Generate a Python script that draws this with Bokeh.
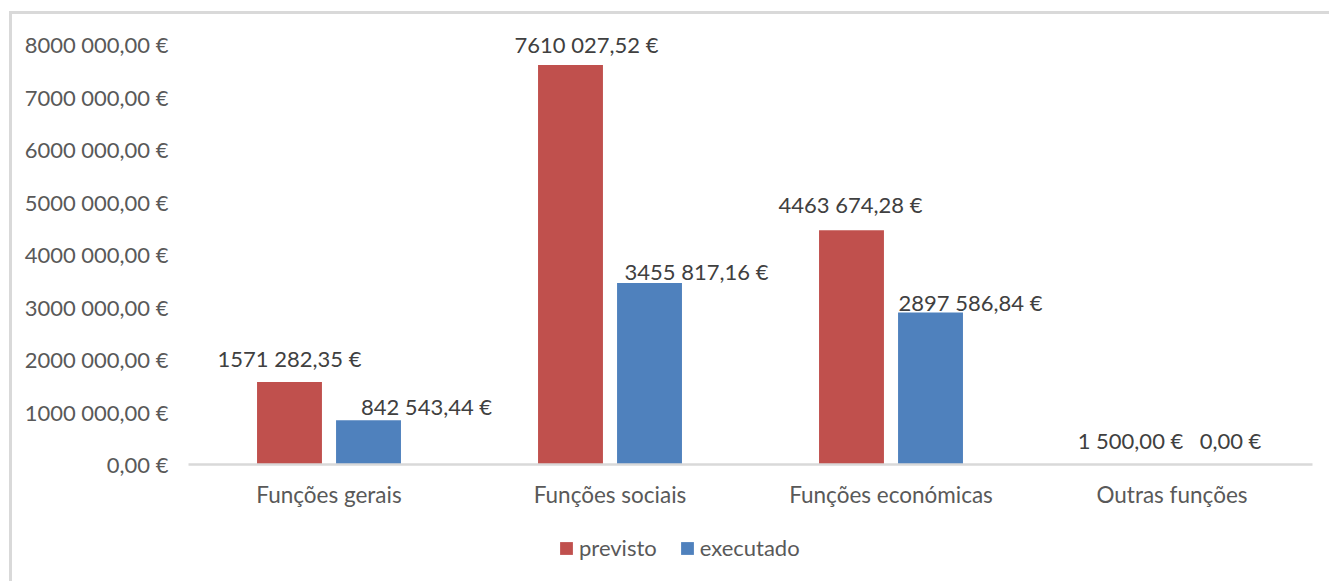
from bokeh.plotting import figure
from bokeh.layouts import column
from bokeh.models import (ColumnDataSource, FactorRange, Range1d, FixedTicker,
                          Legend, LegendItem, InlineStyleSheet)
from bokeh.transform import dodge
from bokeh.core.properties import value
from bokeh.embed import file_html
from bokeh.resources import INLINE

# --- data -------------------------------------------------------------
categories = ["Funções gerais", "Funções sociais", "Funções económicas", "Outras funções"]
previsto = [1571282.35, 7610027.52, 4463674.28, 1500.00]
executado = [842543.44, 3455817.16, 2897586.84, 0.00]
y_ticks = [0, 1000000, 2000000, 3000000, 4000000, 5000000, 6000000, 7000000, 8000000]
series_names = ["previsto", "executado"]

# label nudges (screen px) so the value labels sit clear of neighbouring bars
previsto_dx = [0, 16, -1, -2]
previsto_dy = [-24, -20, -26, -24]
executado_dx = [58, 47, 40, 19]
executado_dy = [-14, -12, -10, -24]


def euro(v):
    """Portuguese currency format: '7610 027,52 €', '842 543,44 €'."""
    s = f"{v:,.2f}"
    int_part, dec = s.split(".")
    groups = int_part.split(",")
    if len(groups) >= 3:
        groups = [groups[0] + groups[1]] + groups[2:]
    return " ".join(groups) + "," + dec + " €"


RED = "#C0504D"
BLUE = "#4F81BD"
FONT = "Lato"

source = ColumnDataSource(dict(
    cat=categories,
    previsto=previsto,
    executado=executado,
    lab_p=[euro(v) for v in previsto],
    lab_e=[euro(v) for v in executado],
    dx_p=previsto_dx, dy_p=previsto_dy,
    dx_e=executado_dx, dy_e=executado_dy,
))

p = figure(
    width=1329, height=520,
    x_range=FactorRange(*categories, range_padding=0),
    y_range=Range1d(0, 8400000),
    output_backend="svg", toolbar_location=None,
    min_border_left=188, min_border_right=17,
    min_border_top=23, min_border_bottom=56,
)

p.outline_line_color = None
p.xgrid.grid_line_color = None
p.ygrid.grid_line_color = None
p.background_fill_color = "white"
p.border_fill_color = "white"

BAR_W = 0.231
OFF = 0.1406

p.vbar(x=dodge("cat", -OFF, range=p.x_range), top="previsto", width=BAR_W,
       source=source, color=RED, line_color=None)
p.vbar(x=dodge("cat", OFF, range=p.x_range), top="executado", width=BAR_W,
       source=source, color=BLUE, line_color=None)

# value labels
p.text(x=dodge("cat", -OFF, range=p.x_range), y="previsto", text="lab_p",
       x_offset="dx_p", y_offset="dy_p", source=source,
       text_font=value(FONT), text_font_size="22px", text_color="#404040",
       text_align="center", text_baseline="middle")
p.text(x=dodge("cat", OFF, range=p.x_range), y="executado", text="lab_e",
       x_offset="dx_e", y_offset="dy_e", source=source,
       text_font=value(FONT), text_font_size="22px", text_color="#404040",
       text_align="center", text_baseline="middle")

# y axis
p.yaxis.ticker = FixedTicker(ticks=y_ticks)
p.yaxis.major_label_overrides = {t: euro(t) for t in y_ticks}
p.yaxis.axis_line_color = None
p.yaxis.major_tick_line_color = None
p.yaxis.minor_tick_line_color = None
p.yaxis.major_label_standoff = 14
p.yaxis.major_label_text_font = FONT
p.yaxis.major_label_text_font_size = "22px"
p.yaxis.major_label_text_color = "#595959"

# x axis
p.xaxis.axis_line_color = "#d9d9d9"
p.xaxis.axis_line_width = 2.5
p.xaxis.major_tick_line_color = None
p.xaxis.minor_tick_line_color = None
p.xaxis.major_label_standoff = 10
p.xaxis.major_label_text_font = FONT
p.xaxis.major_label_text_font_size = "22.5px"
p.xaxis.major_label_text_color = "#595959"

# legend strip under the chart (its frame is aligned with the chart's frame)
leg = figure(
    width=1329, height=61,
    x_range=Range1d(0, 1), y_range=Range1d(0, 1),
    x_axis_type=None, y_axis_type=None,
    output_backend="svg", toolbar_location=None,
    min_border=0,
)
leg.outline_line_color = None
leg.xgrid.grid_line_color = None
leg.ygrid.grid_line_color = None
leg.background_fill_color = "white"
leg.border_fill_color = "white"
# zero-height proxies that only supply the legend swatches
leg_r = leg.vbar(x=[0.5], bottom=[0], top=[0], width=0.1, fill_color=RED, line_color=None)
leg_b = leg.vbar(x=[0.5], bottom=[0], top=[0], width=0.1, fill_color=BLUE, line_color=None)

legend = Legend(
    items=[LegendItem(label=series_names[0], renderers=[leg_r]),
           LegendItem(label=series_names[1], renderers=[leg_b])],
    orientation="horizontal",
    location=(370, 20),
    glyph_width=16, glyph_height=16, label_height=20,
    label_standoff=5, spacing=22, padding=0, margin=0,
    label_text_font=FONT, label_text_font_size="22px",
    label_text_color="#595959",
    border_line_color=None, background_fill_alpha=0,
)
leg.add_layout(legend, "center")

# light grey frame line on the left and top of the whole chart
frame_css = InlineStyleSheet(css="""
:host { position: relative; background: white; }
:host::after {
  content: ""; position: absolute; left: 9px; top: 11px; right: 0; bottom: 0;
  border-left: 3px solid #d9d9d9; border-top: 3px solid #d9d9d9;
  pointer-events: none;
}
""")
page = column(p, leg, spacing=0, stylesheets=[frame_css])

open("out.html", "w").write(file_html(page, INLINE))
